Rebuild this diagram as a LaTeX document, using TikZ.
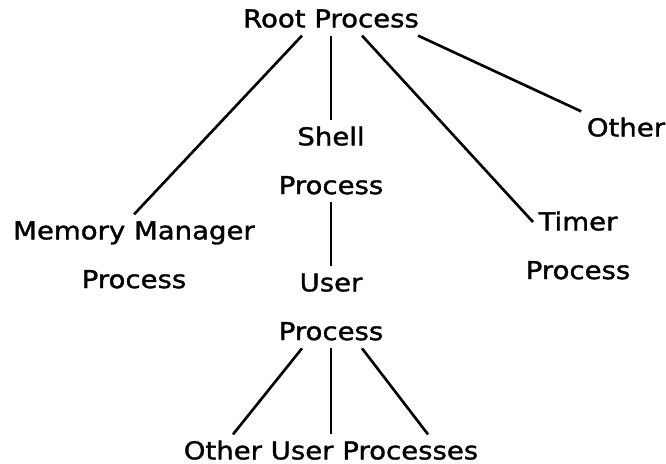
\documentclass[tikz,border=0pt]{standalone}
\usepackage{fontspec}
\setmainfont{DejaVu Sans}[FakeStretch=1.12,FakeBold=1.4]
\usepackage{tikz}
\usetikzlibrary{positioning}

\begin{document}
\begin{tikzpicture}[scale=1.0,transform shape]
      \tikzstyle{proc}=[font=\fontsize{14}{17}\selectfont, inner sep=3pt, text height=11pt, text depth=1.5pt]
      \tikzstyle{link}=[line width=1.5pt]
      \useasboundingbox (0,0) rectangle (13.32,9.26);
      \node[proc] (Root) at (6.62,8.88) {Root Process};
      \node[proc] (Shell) at (6.62,6.52) {Shell};
      \node[proc, below = 0.31cm of Shell] (ShellP) {Process};
      \node[proc] (Mem) at (2.68,4.64) {Memory Manager};
      \node[proc, below = 0.31cm of Mem] (MemP) {Process};
      \node[proc] (Timer) at (11.56,4.82) {Timer};
      \node[proc, below = 0.31cm of Timer] (TimerP) {Process};
      \node[proc] (Other) at (12.52,6.70) {Other};
      \node[proc] (User) at (6.62,3.60) {User};
      \node[proc, below = 0.31cm of User] (UserP) {Process};
      \node[proc] (OtherUser) at (6.62,0.24) {Other User Processes};
      \draw [link] ([xshift=-0.58cm]Root.south) -- (Mem.north);
      \draw [link] (Root.south) -- (Shell.north);
      \draw [link] ([xshift=0.62cm]Root.south) -- (Timer.west);
      \draw [link] ([xshift=1.74cm]Root.south) -- (Other.north west);
      \draw [link] (ShellP.south) -- (User.north);
      \draw [link] ([xshift=-0.58cm]UserP.south) -- ([xshift=-1.96cm]OtherUser.north);
      \draw [link] (UserP.south) -- (OtherUser.north);
      \draw [link] ([xshift=0.62cm]UserP.south) -- ([xshift=1.94cm]OtherUser.north);
\end{tikzpicture}
\end{document}
